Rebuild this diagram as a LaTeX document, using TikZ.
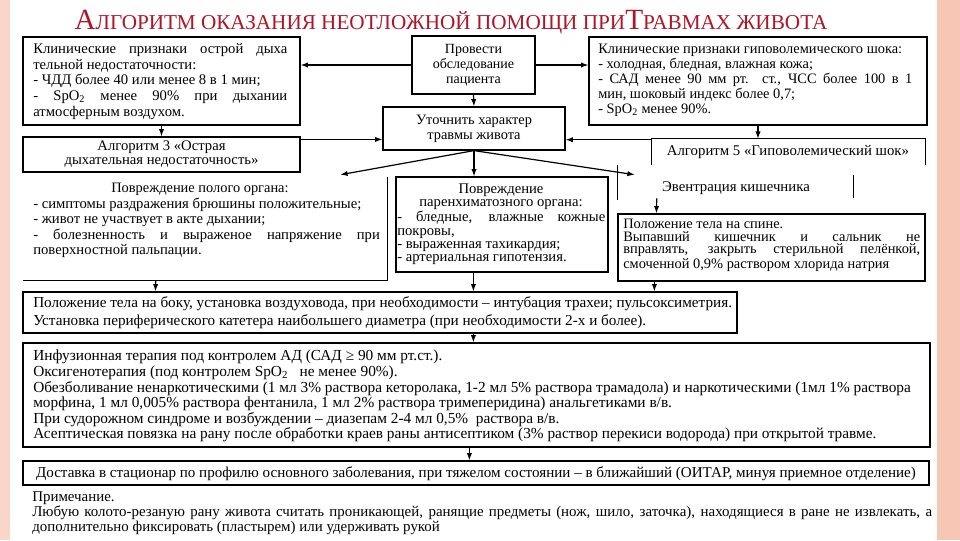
\documentclass[tikz,border=0pt]{standalone}
\usepackage{fontspec}
\setmainfont{Liberation Serif}
\usetikzlibrary{fit,calc,arrows.meta}
\definecolor{ttl}{RGB}{176,22,40}
\definecolor{pinkA}{RGB}{250,214,200}
\definecolor{pinkB}{RGB}{248,198,180}
\begin{document}
\begin{tikzpicture}[x=0.75pt,y=-0.75pt,
  bx/.style={draw,line width=0.9pt,inner sep=0pt},
  fr/.style={inner sep=0pt},
  arr/.style={line width=0.9pt,-{Latex[length=5.5pt,width=4pt]}},
  ln/.style={line width=0.9pt},
  tx/.style={inner sep=0pt,anchor=north west,align=justify,font=\fontsize{11}{11.8}\selectfont},
  ct/.style={inner sep=0pt,align=center,font=\fontsize{11}{11.25}\selectfont}]
\useasboundingbox[fill=white] (0,0) rectangle (960,540);
\fill[pinkA] (0,0) rectangle (10,540);
\fill[pinkB] (937,0) rectangle (960,540);
% title
\node[anchor=base,text=ttl,inner sep=0pt] (title) at (451,29) {\fontsize{22}{22}\selectfont А\fontsize{15.9}{15.9}\selectfont ЛГОРИТМ ОКАЗАНИЯ НЕОТЛОЖНОЙ ПОМОЩИ ПРИ\fontsize{22}{22}\selectfont Т\fontsize{15.9}{15.9}\selectfont РАВМАХ ЖИВОТА};
% boxes
\node[bx,fit={(23,37)(300,125)}] (A) {};
\node[bx,fit={(412,36)(535,94)}] (B) {};
\node[bx,fit={(589,37)(927,125)}] (D) {};
\node[bx,fit={(383,107)(565,150)}] (C) {};
\node[bx,fit={(23,137)(300,172)}] (A2) {};
\node[fr,fit={(652,139)(925,165)}] (D2) {};
\draw[ln] (D2.south west) -- (D2.north west) -- (D2.north east) -- (D2.south east);
\node[fr,fit={(23,177)(387,280)}] (E1) {};
\draw[ln] (E1.north east) -- (E1.south east) -- (E1.south west);
\node[bx,fit={(396,177)(608,272)}] (E2) {};
\node[fr,fit={(618,165)(853,200)}] (EV) {};
\draw[ln] (EV.north west) -- (EV.south west);
\draw[ln] ($(EV.north east)+(0,10)$) -- ($(EV.south east)+(0,-2)$);
\node[bx,fit={(618,214)(925,281)}] (E3) {};
\node[bx,fit={(23,292)(737,333)}] (F) {};
\node[bx,fit={(23,343)(930,447)}] (G) {};
\node[bx,fit={(23,461)(929,485)}] (H) {};
% texts
\node[tx,text width=190.5pt,font=\fontsize{11}{11.85}\selectfont] (Atx) at (33,43) {Клинические признаки острой дыха\linebreak тельной недостаточности:\\- ЧДД более 40 или менее 8 в 1 мин;\\- SpO\textsubscript{2} менее 90\% при дыхании\linebreak атмосферным воздухом.};
\node[ct,font=\fontsize{10.5}{11.25}\selectfont] (Btx) at (B.center) {Провести\\обследование\\пациента};
\node[tx,text width=235.5pt,font=\fontsize{10.8}{11.25}\selectfont] (Dtx) at (598,44) {Клинические признаки гиповолемического шока:\\- холодная, бледная, влажная кожа;\\- САД менее 90 мм рт. ст., ЧСС более 100 в 1\linebreak мин, шоковый индекс более 0,7;\\- SpO\textsubscript{2} менее 90\%.};
\node[ct,font=\fontsize{10.8}{11.25}\selectfont] (Ctx) at (C.center) {Уточнить характер\\травмы живота};
\node[ct,font=\fontsize{11}{10.5}\selectfont] (A2tx) at (A2.center) {Алгоритм 3 «Острая\\дыхательная недостаточность»};
\node[ct,font=\fontsize{11.1}{11}\selectfont] (D2tx) at (788,152) {Алгоритм 5 «Гиповолемический шок»};
\node[ct,font=\fontsize{10.8}{11}\selectfont] (E1t) at (200,189) {Повреждение полого органа:};
\node[tx,text width=260pt,font=\fontsize{11}{11.4}\selectfont] (E1tx) at (33,198) {- симптомы раздражения брюшины положительные;\\- живот не участвует в акте дыхании;\\- болезненность и выраженое напряжение при\linebreak поверхностной пальпации.};
\node[ct,font=\fontsize{11}{10}\selectfont] (E2t) at (501,196.5) {Повреждение\\паренхиматозного органа:};
\node[tx,text width=156pt,font=\fontsize{11}{10}\selectfont] (E2tx) at (397,211) {- бледные, влажные кожные\linebreak покровы,\\- выраженная тахикардия;\\- артериальная гипотензия.};
\node[ct,font=\fontsize{11.1}{11}\selectfont] (EVt) at (736,188) {Эвентрация кишечника};
\node[tx,text width=222.75pt,font=\fontsize{10.8}{9.4}\selectfont] (E3tx) at (623,219) {\parfillskip=0pt Положение тела на спине.\\Выпавший кишечник и сальник не\linebreak вправлять, закрыть стерильной пелёнкой,\linebreak смоченной 0,9\% раствором хлорида натрия};
\node[tx,align=left,font=\fontsize{11.4}{13.5}\selectfont] (Ftx) at (33,296) {Положение тела на боку, установка воздуховода, при необходимости – интубация трахеи; пульсоксиметрия.\\Установка периферического катетера наибольшего диаметра (при необходимости 2-х и более).};
\node[tx,align=left,font=\fontsize{11.5}{11.7}\selectfont] (Gtx) at (33,350) {Инфузионная терапия под контролем АД (САД ≥ 90 мм рт.ст.).\\Оксигенотерапия (под контролем SpO\textsubscript{2}\ \ \ не менее 90\%).\\Обезболивание ненаркотическими (1 мл 3\% раствора кеторолака, 1-2 мл 5\% раствора трамадола) и наркотическими (1мл 1\% раствора\\морфина, 1 мл 0,005\% раствора фентанила, 1 мл 2\% раствора тримеперидина) анальгетиками в/в.\\При судорожном синдроме и возбуждении – диазепам 2-4 мл 0,5\%\ \ раствора в/в.\\Асептическая повязка на рану после обработки краев раны антисептиком (3\% раствор перекиси водорода) при открытой травме.};
\node[ct,font=\fontsize{11.3}{11}\selectfont] (Htx) at (476,473.5) {Доставка в стационар по профилю основного заболевания, при тяжелом состоянии – в ближайший (ОИТАР, минуя приемное отделение)};
\node[tx,text width=675pt,font=\fontsize{11.2}{11.25}\selectfont] (Ntx) at (32,491) {Примечание.\\Любую колото-резаную рану живота считать проникающей, ранящие предметы (нож, шило, заточка), находящиеся в ране не извлекать, а\linebreak дополнительно фиксировать (пластырем) или удерживать рукой};
% connectors
\draw[arr] (B.west) -- (A.east |- B.west);
\draw[arr] (B.east) -- (D.west |- B.east);
\draw[arr] (A.south) -- (A2.north);
\draw[arr] (B.south) -- (C.north);
\draw[arr] (D.south) -- (D.south |- D2.north);
\draw[arr] ($(A2.north east)+(0,3)$) -- ($(C.west |- A2.north east)+(0,3)$);
\draw[arr] ($(D2.north west)+(0,1)$) -- ($(C.east |- D2.north west)+(0,1)$);
\draw[arr] (C.south) -- ($(E1.north east)+(-47,-2)$);
\draw[arr] (C.south) -- (C.south |- E2.north);
\draw[arr] (C.south) -- ($(EV.north west)+(17,10)$);
\draw[arr] ($(EV.south west)+(39,-2)$) -- ($(E3.north west)+(39,0)$);
\draw[arr] ($(E1.south west)+(133,0)$) -- ($(F.north west)+(133,0)$);
\draw[arr] ($(E2.south west)+(78,0)$) -- ($(F.north west)+(451,0)$);
\draw[arr] ($(E3.south west)+(37,0)$) -- ($(F.north west)+(632,0)$);
\draw[arr] ($(F.south west)+(451,0)$) -- ($(G.north west)+(451,0)$);
\draw[arr] ($(G.south west)+(447,0)$) -- ($(H.north west)+(447,0)$);
\end{tikzpicture}
\end{document}
